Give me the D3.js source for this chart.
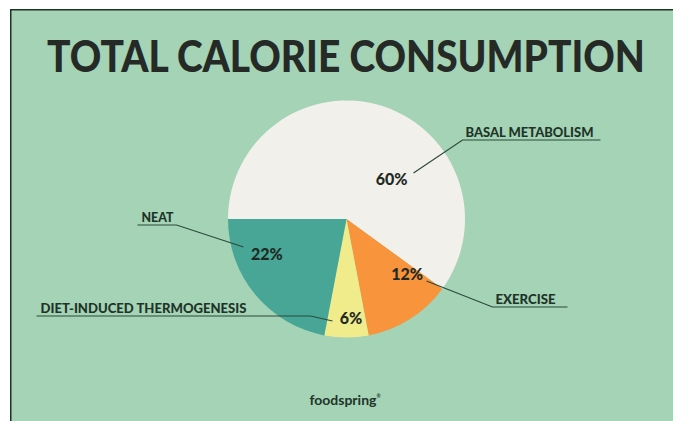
<!DOCTYPE html>
<html>
<head>
<meta charset="utf-8">
<script src="https://cdn.jsdelivr.net/npm/d3@7"></script>
<style>
  html, body { margin: 0; padding: 0; background: #ffffff; }
  svg { display: block; }
</style>
</head>
<body>
<svg id="chart" width="673" height="421"></svg>
<script>
// Share of total daily energy expenditure
const categories = ["BASAL METABOLISM", "EXERCISE", "DIET-INDUCED THERMOGENESIS", "NEAT"];
const values = [60, 12, 6, 22];
const sliceColors = ["#f2f0eb", "#f7943c", "#f0ec8c", "#47a696"];

// Label placement per slice: percent label (polar, degrees clockwise from 12 o'clock),
// leader end point and name label side
const labelLayout = [
  { pAngle: 48.7,  pRadius: 60,  leadFrom: [67, -46],  leadTo: [116, -79], lineTo: 254, side: "right", textW: 128 },
  { pAngle: 132.3, pRadius: 82,  leadFrom: [80, 62],   leadTo: [146, 88],  lineTo: 221, side: "right", textW: 60 },
  { pAngle: 177.4, pRadius: 99,  leadFrom: [-14, 102], leadTo: [-36, 97],  lineTo: -310, side: "left", textW: 206 },
  { pAngle: 246.2, pRadius: 87,  leadFrom: [-103, 28], leadTo: [-170, 6],  lineTo: -209, side: "left", textW: 32 }
];

const W = 673, H = 421;
const svg = d3.select("#chart");

// Panel
svg.append("rect")
  .attr("x", 10).attr("y", 9.5)
  .attr("width", W - 10).attr("height", H - 9.5)
  .attr("fill", "#a4d3b5");
svg.append("path")
  .attr("d", `M10.75,${H} V9.75 H${W}`)
  .attr("fill", "none")
  .attr("stroke", "#1c3327")
  .attr("stroke-width", 1.5);

// Title: fitted to its width, then stretched vertically for the heavy display look
const title = svg.append("text")
  .attr("text-anchor", "middle")
  .attr("font-family", "Lato, 'DejaVu Sans', sans-serif")
  .attr("font-weight", 900)
  .attr("font-size", 40)
  .attr("fill", "#252a27")
  .text("TOTAL CALORIE CONSUMPTION");
const tw = title.node().getComputedTextLength();
const sx = 598 / tw;
title.attr("transform", `translate(346,72) scale(${sx},${32 / (0.72 * 40)})`);

// Pie
const cx = 346.5, cy = 219, radius = 118.5;
const g = svg.append("g").attr("transform", `translate(${cx},${cy})`);

const pie = d3.pie()
  .sort(null)
  .value(d => d)
  .startAngle(-Math.PI / 2)
  .endAngle(3 * Math.PI / 2);
const arc = d3.arc().innerRadius(0).outerRadius(radius);
const arcs = pie(values);

g.selectAll("path.slice")
  .data(arcs)
  .join("path")
  .attr("class", "slice")
  .attr("d", arc)
  .attr("fill", (d, i) => sliceColors[i]);

const lineColor = "#2c4a3b";
const textColor = "#1f3429";

// Leader lines with underlines
g.selectAll("path.leader")
  .data(labelLayout)
  .join("path")
  .attr("class", "leader")
  .attr("d", d => `M${d.leadFrom[0]},${d.leadFrom[1]} L${d.leadTo[0]},${d.leadTo[1]} H${d.lineTo}`)
  .attr("fill", "none")
  .attr("stroke", lineColor)
  .attr("stroke-width", 1.2);

// Category names above the underline
g.selectAll("text.name")
  .data(labelLayout)
  .join("text")
  .attr("class", "name")
  .attr("x", d => d.side === "right" ? d.leadTo[0] + 3 : d.lineTo + 4)
  .attr("y", d => d.leadTo[1] - 3)
  .attr("font-family", "Lato, 'DejaVu Sans', sans-serif")
  .attr("font-weight", 900)
  .attr("font-size", 13.5)
  .attr("fill", textColor)
  .attr("textLength", d => d.textW)
  .attr("lengthAdjust", "spacingAndGlyphs")
  .text((d, i) => categories[i]);

// Percent labels
g.selectAll("text.pct")
  .data(arcs)
  .join("text")
  .attr("class", "pct")
  .attr("transform", (d, i) => {
    const L = labelLayout[i];
    const p = d3.pointRadial(L.pAngle * Math.PI / 180, L.pRadius);
    return `translate(${p[0]},${p[1]})`;
  })
  .attr("text-anchor", "middle")
  .attr("dy", "0.36em")
  .attr("font-family", "Lato, 'DejaVu Sans', sans-serif")
  .attr("font-weight", 900)
  .attr("font-size", 16)
  .attr("fill", "#1f2a24")
  .text(d => d.data + "%");

// Footer brand
const brand = svg.append("text")
  .attr("x", 345).attr("y", 405)
  .attr("text-anchor", "middle")
  .attr("font-family", "Lato, 'DejaVu Sans', sans-serif")
  .attr("font-weight", 700)
  .attr("font-size", 14)
  .attr("fill", "#22332a")
  .text("foodspring");
brand.append("tspan")
  .attr("font-size", 5)
  .attr("dy", -7)
  .text("®");
</script>
</body>
</html>
